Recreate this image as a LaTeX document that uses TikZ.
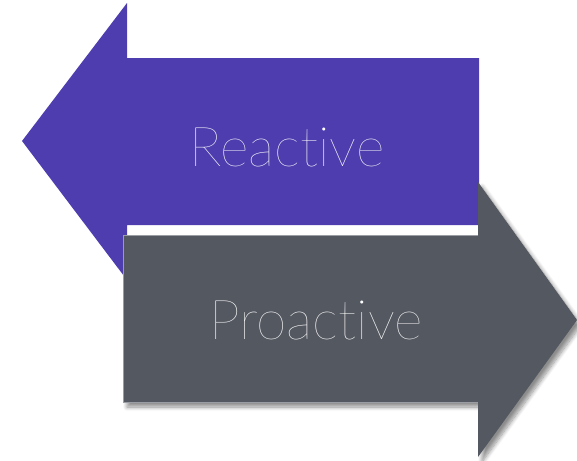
\documentclass[tikz,border=0pt]{standalone}
\usepackage{fontspec}
\newfontfamily\thinfont{Lato}[UprightFont={* Hairline}, Ligatures=NoCommon]
\usetikzlibrary{shadows.blur}
\definecolor{reactcol}{HTML}{4E3DAE}
\definecolor{proactcol}{HTML}{545861}
\definecolor{proactedge}{HTML}{9A9DA3}
\tikzset{
  lbl/.style={text=white, font=\thinfont\fontsize{55}{55}\selectfont, inner sep=0pt, anchor=center},
  shadowed/.style={blur shadow={shadow xshift=4pt, shadow yshift=-5pt, shadow blur steps=8, shadow blur radius=4pt, shadow opacity=45}}
}
\begin{document}
\begin{tikzpicture}[x=1pt,y=-1pt]
\useasboundingbox (0,0) rectangle (577,460);
% purple left arrow
\fill[reactcol] (22,141) -- (127,3) -- (127,58) -- (479,58) -- (479,225) -- (127,225) -- (127,280) -- cycle;
% gray right arrow
\fill[proactcol, shadowed] (123,235) -- (478,235) -- (478,182) -- (577,320) -- (478,457) -- (478,402) -- (123,402) -- cycle;
\draw[proactedge, line width=0.6pt] (478,235) -- (123,235) -- (123,402) -- (478,402);
\node[lbl] (reactive) at (287,147) {Reactive};
\node[lbl] (proactive) at (316,320) {Proactive};
\end{tikzpicture}
\end{document}
